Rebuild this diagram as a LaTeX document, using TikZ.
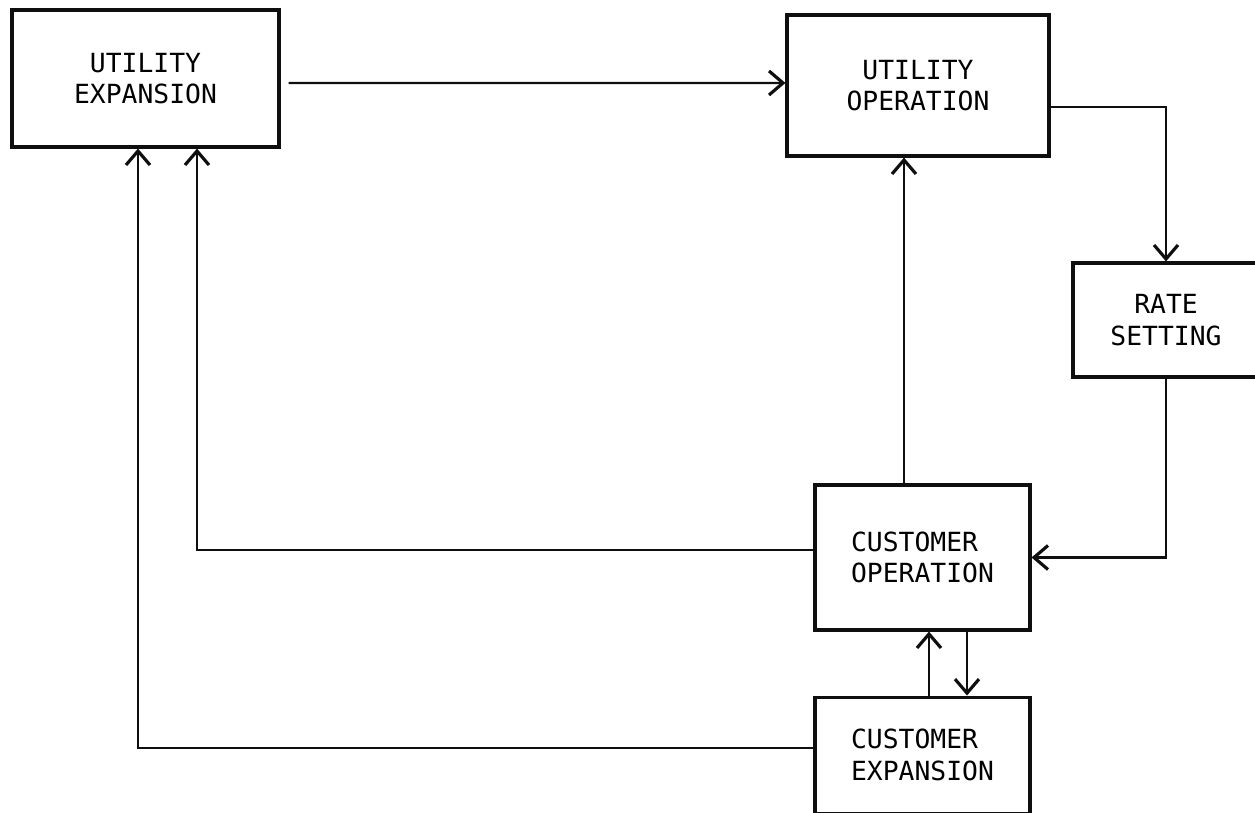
\documentclass[tikz,border=0pt]{standalone}
\usepackage{fontspec}
\setmonofont{DejaVu Sans Mono}
\usetikzlibrary{arrows.meta,positioning,calc}
\definecolor{ink}{RGB}{15,15,15}
\tikzset{
  block/.style={rectangle,draw=ink,line width=1.8pt,align=center,
                inner sep=0pt,font=\fontsize{15}{18}\selectfont\ttfamily},
  arrow/.style={-{Straight Barb[length=2.8mm,width=4.8mm,line width=1.8pt]},
                line width=1.2pt,ink},
}

\begin{document}
\begin{tikzpicture}[x=0.02cm,y=-0.02cm]

    \clip (0,0) rectangle (1255,813);

    \node[block,minimum width=5.34cm,minimum height=2.74cm] (ue)
        at (145.5,78.5) {UTILITY\\EXPANSION};

    \node[block,minimum width=5.24cm,minimum height=2.82cm] (uo)
        at (918,85.5) {UTILITY\\OPERATION};

    \node[block,minimum width=3.72cm,minimum height=2.28cm] (rs)
        at (1166,320) {RATE\\SETTING};

    \node[block,align=left,minimum width=4.3cm,minimum height=2.9cm] (co)
        at (922.5,557.5) {CUSTOMER\\OPERATION};

    \node[block,align=left,minimum width=4.3cm,minimum height=2.32cm,
          below=1.28cm of co] (ce)
        {CUSTOMER\\EXPANSION};

    % feedback ends on the utility expansion box
    \coordinate (uein)  at ($(ue.south)+(51.5,0)$);
    \coordinate (ueout) at ($(ue.south)+(-7.5,0)$);
    \coordinate (cotop) at ($(co.north)+(-18.5,0)$);

    \draw[arrow] ($(ue.east)+(8,4.5)$) -- ($(uo.west)+(0,-2.5)$);
    \draw[arrow] ($(uo.east)+(0,21.5)$) -| (rs.north);
    \draw[arrow] (rs.south) |- (co.east);
    \draw[arrow] (cotop) -- (cotop |- uo.south);
    \draw[arrow] ($(co.west)+(0,-7.5)$) -| (uein);
    \draw[arrow] ($(ce.west)+(0,-7)$) -| (ueout);

    \draw[arrow] ($(ce.north)+(6.5,0)$) -- ($(co.south)+(6.5,0)$);
    \draw[arrow] ($(co.south)+(44.5,0)$) -- ($(ce.north)+(44.5,0)$);

\end{tikzpicture}
\end{document}
